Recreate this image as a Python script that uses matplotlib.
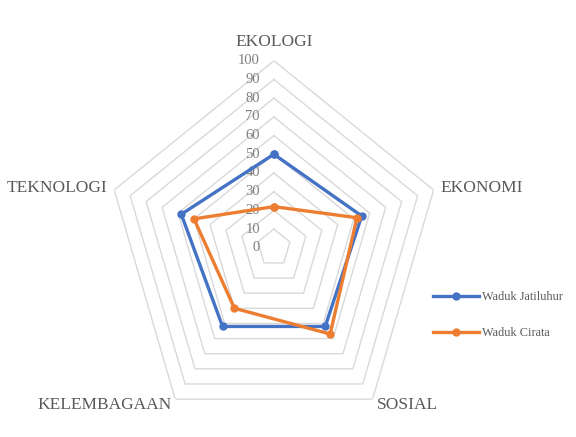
import numpy as np
import matplotlib
matplotlib.use("Agg")
import matplotlib.pyplot as plt
from matplotlib.transforms import offset_copy

# Data
categories = ['EKOLOGI', 'EKONOMI', 'SOSIAL', 'KELEMBAGAAN', 'TEKNOLOGI']
jatiluhur = [50, 55, 52, 52, 58]
cirata = [22, 52, 57, 40, 50]
ring_levels = [10, 20, 30, 40, 50, 60, 70, 80, 90, 100]
tick_values = [0, 10, 20, 30, 40, 50, 60, 70, 80, 90, 100]

plt.rcParams['font.family'] = ['Liberation Serif', 'DejaVu Serif']
text_color = '#595959'

n = len(categories)
angles = np.linspace(0, 2 * np.pi, n, endpoint=False)
closed = np.append(angles, angles[0])

fig = plt.figure(figsize=(5.76, 4.37), dpi=100)
ax = fig.add_axes([0.184, 0.005, 0.583, 0.856], projection='polar')
ax.set_aspect('auto')
ax.set_theta_offset(np.pi / 2)
ax.set_theta_direction(-1)
ax.patch.set_visible(False)
ax.spines['polar'].set_visible(False)
ax.grid(False)
ax.set_xticks([])
ax.set_yticks([])

# pentagon gridlines
for lv in ring_levels:
    ax.plot(closed, [lv] * (n + 1), color='#d9d9d9', lw=1.0, zorder=1)

# series
ax.plot(closed, jatiluhur + jatiluhur[:1], color='#4472C4', lw=2.4,
        marker='o', markersize=5, label='Waduk Jatiluhur', zorder=3)
ax.plot(closed, cirata + cirata[:1], color='#ED7D31', lw=2.4,
        marker='o', markersize=5, label='Waduk Cirata', zorder=4)
ax.set_ylim(0, 100)

# radial tick labels along top axis
tr = offset_copy(ax.transData, fig=fig, x=-10, y=0, units='points')
for v in tick_values:
    ax.text(0, v, str(v), transform=tr, ha='right', va='center',
            fontsize=10.5, color='#7f7f7f', zorder=2)

# category labels
label_pos = [
    (angles[0], 110, 'center', 'center'),
    (angles[1], 104, 'left', 'center'),
    (angles[2], 104, 'left', 'center'),
    (angles[3], 104, 'right', 'center'),
    (angles[4], 104, 'right', 'center'),
]
for name, (th, r, ha, va) in zip(categories, label_pos):
    ax.text(th, r, name, ha=ha, va=va, fontsize=12.5, color=text_color,
            clip_on=False)

leg = fig.legend(loc='center left', bbox_to_anchor=(428 / 576, 1 - 315 / 437),
                 frameon=False, fontsize=8.8, handlelength=3.8,
                 labelspacing=2.0, handletextpad=0.2, borderaxespad=0)
for t in leg.get_texts():
    t.set_color(text_color)

fig.savefig('out.png', dpi=100)
